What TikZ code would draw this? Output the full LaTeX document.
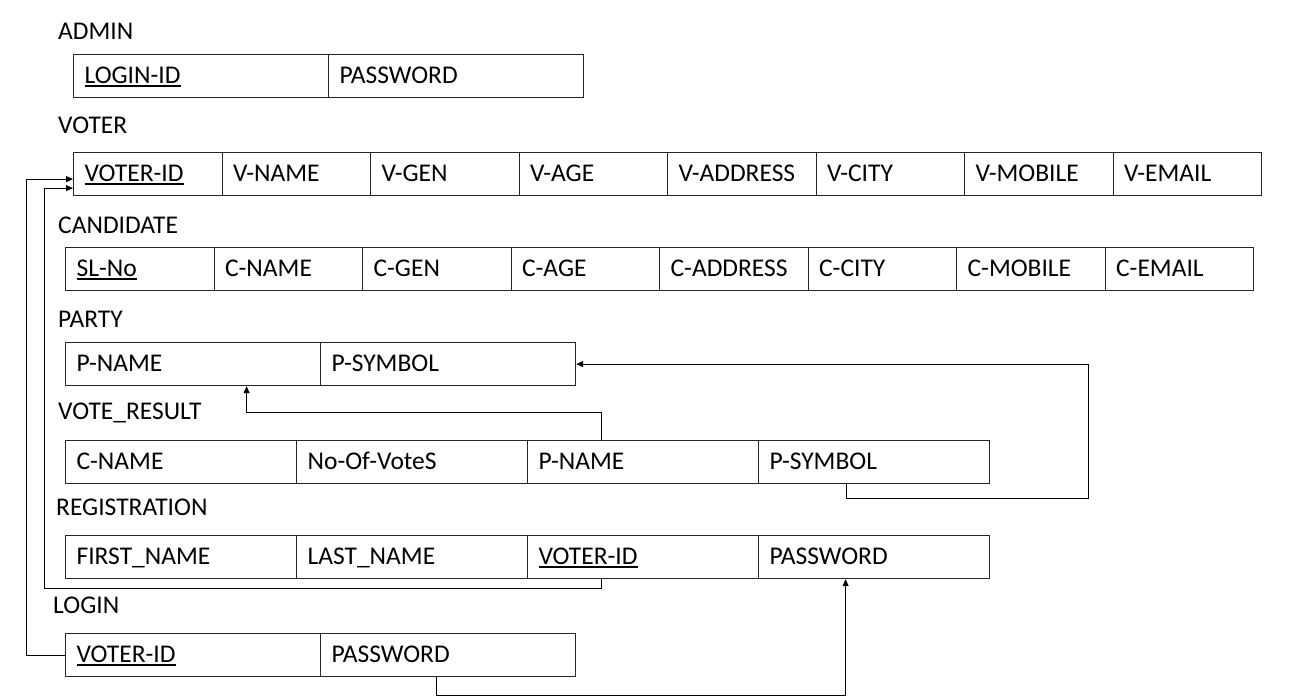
\documentclass[tikz,border=0pt]{standalone}
\usepackage{fontspec}
\setmainfont{Carlito}
\usetikzlibrary{arrows.meta}
\tikzset{
  cell/.style={draw=black!85, line width=1.2pt, anchor=north west, inner xsep=11pt, inner ysep=0pt,
    text width=#1, text height=18.5pt, text depth=3.5pt, minimum height=43pt, align=left, font=\fontsize{25.5}{29}\selectfont},
  title/.style={anchor=west, inner sep=0pt, font=\fontsize{25.5}{29}\selectfont},
  conn/.style={draw=black, line width=0.9pt},
  arr/.style={conn, -{Triangle[width=6pt,length=7pt]}}
}
\newcommand{\ul}[1]{\setbox0\hbox{#1}\rlap{\rule[-3.5pt]{\wd0}{1.8pt}}\box0}
\begin{document}
\begin{tikzpicture}[x=1pt,y=-1pt]
\useasboundingbox (0,0) rectangle (1315,696);
% ADMIN
\node[title] (tadmin) at (58,31) {ADMIN};
\node[cell=233pt] (a1) at (73,54) {\ul{LOGIN-ID}};
\node[cell=233pt] (a2) at (328,54) {PASSWORD};
% VOTER
\node[title] (tvoter) at (58,125) {VOTER};
\node[cell=126.5pt] (v1) at (73,152) {\ul{VOTER-ID}};
\node[cell=126.5pt] (v2) at (221.5,152) {V-NAME};
\node[cell=126.5pt] (v3) at (370,152) {V-GEN};
\node[cell=126.5pt] (v4) at (518.5,152) {V-AGE};
\node[cell=126.5pt] (v5) at (667,152) {V-ADDRESS};
\node[cell=126.5pt] (v6) at (815.5,152) {V-CITY};
\node[cell=126.5pt] (v7) at (964,152) {V-MOBILE};
\node[cell=126.5pt] (v8) at (1112.5,152) {V-EMAIL};
% CANDIDATE
\node[title] (tcand) at (58,225) {CANDIDATE};
\node[cell=126.5pt] (c1) at (65,247) {\ul{SL-No}};
\node[cell=126.5pt] (c2) at (213.5,247) {C-NAME};
\node[cell=126.5pt] (c3) at (362,247) {C-GEN};
\node[cell=126.5pt] (c4) at (510.5,247) {C-AGE};
\node[cell=126.5pt] (c5) at (659,247) {C-ADDRESS};
\node[cell=126.5pt] (c6) at (807.5,247) {C-CITY};
\node[cell=126.5pt] (c7) at (956,247) {C-MOBILE};
\node[cell=126.5pt] (c8) at (1104.5,247) {C-EMAIL};
% PARTY
\node[title] (tparty) at (58,319) {PARTY};
\node[cell=233pt] (p1) at (65,342) {P-NAME};
\node[cell=233pt] (p2) at (320,342) {P-SYMBOL};
% VOTE_RESULT
\node[title] (tvr) at (58,413) {VOTE\_RESULT};
\node[cell=209pt] (vr1) at (65,440) {C-NAME};
\node[cell=209pt] (vr2) at (296,440) {No-Of-VoteS};
\node[cell=209pt] (vr3) at (527,440) {P-NAME};
\node[cell=209pt] (vr4) at (758,440) {P-SYMBOL};
% REGISTRATION
\node[title] (treg) at (56,507) {REGISTRATION};
\node[cell=209pt] (r1) at (65,535) {FIRST\_NAME};
\node[cell=209pt] (r2) at (296,535) {LAST\_NAME};
\node[cell=209pt] (r3) at (527,535) {\ul{VOTER-ID}};
\node[cell=209pt] (r4) at (758,535) {PASSWORD};
% LOGIN
\node[title] (tlogin) at (53,605) {LOGIN};
\node[cell=233pt] (l1) at (65,633) {\ul{VOTER-ID}};
\node[cell=233pt] (l2) at (320,633) {PASSWORD};
% connectors
\draw[arr] (l1.west) -- ++(-39,0) |- ([yshift=-5pt]v1.west);
\draw[arr] ([xshift=-42pt]r3.south) -- ++(0,9) -| ([xshift=-29pt,yshift=-14pt]v1.west) -- ([yshift=-14pt]v1.west);
\draw[arr] ([xshift=-12pt]l2.south) -- ++(0,18) -| ([xshift=-28.5pt]r4.south);
\draw[arr] ([xshift=-42pt]vr3.north) -- ++(0,-28) -| ([xshift=53.5pt]p1.south);
\draw[arr] ([xshift=-27.5pt]vr4.south) -- ++(0,14) -| ([xshift=512pt]p2.east) -- (p2.east);
\end{tikzpicture}
\end{document}
